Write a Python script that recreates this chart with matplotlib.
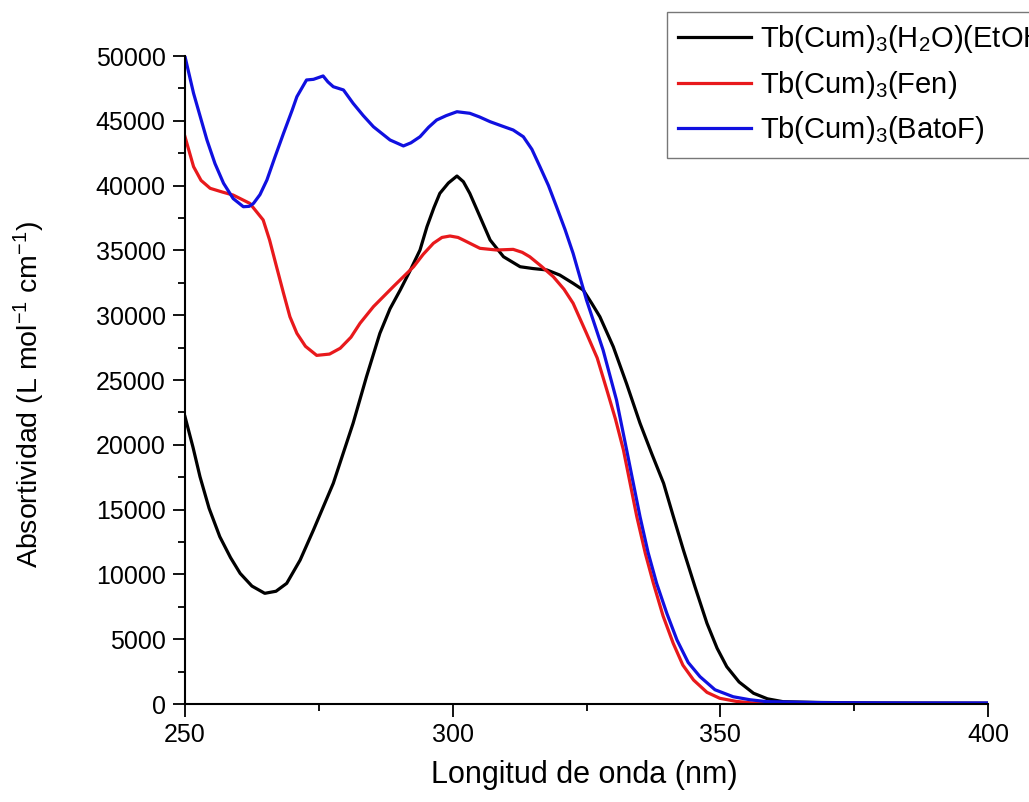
import numpy as np
import matplotlib
matplotlib.use("Agg")
import matplotlib.pyplot as plt
from matplotlib.ticker import MultipleLocator

plt.rcParams['font.family'] = ['Liberation Sans', 'DejaVu Sans']
plt.rcParams['mathtext.default'] = 'regular'

# Tb(Cum)3(H2O)(EtOH) - black
wl_h2o = [250, 251.5, 252.8, 254.5, 256.5, 258.5, 260.3, 262.5, 264.9, 267, 269,
          271.5, 274, 277.7, 281.4, 283.9, 286.4, 288.3, 290.2, 292, 293.9, 295.2,
          296.5, 297.6, 299.2, 300.8, 302, 303.2, 305, 307, 309.5, 312.6, 315,
          317.6, 320, 322.5, 324.4, 326, 327.5, 330, 332.5, 335, 337.2, 339.4,
          341.2, 343.1, 345.3, 347.5, 349.4, 351.2, 353.5, 356.2, 358.8, 361.7,
          368, 380, 400]
abs_h2o = [22170, 19800, 17540, 15100, 12910, 11300, 10080, 9100, 8540, 8700, 9310,
           11100, 13430, 17030, 21660, 25250, 28600, 30500, 31940, 33400, 35030, 36830,
           38300, 39400, 40200, 40740, 40300, 39400, 37700, 35800, 34510, 33740, 33600,
           33490, 33100, 32460, 31940, 30900, 29880, 27570, 24700, 21660, 19300, 17030,
           14500, 11880, 9000, 6230, 4300, 2880, 1700, 830, 400, 180,
           120, 80, 60]

# Tb(Cum)3(Fen) - red
wl_fen = [250, 251.6, 253, 254.7, 257, 259, 262.1, 264.6, 265.8, 267.1, 268.4,
          269.6, 270.9, 272.5, 274.6, 277, 279, 281, 282.7, 285.2, 288.9, 292.7,
          294.5, 296.4, 298, 299.5, 301, 302, 305.1, 308.2, 311.3, 313, 314.4,
          316.5, 318.8, 320.8, 322.5, 325, 327, 328.8, 330.4, 331.9, 334.4, 336,
          337.5, 339.3, 341.2, 343, 345, 347.5, 349.9, 353, 356, 365, 380, 400]
abs_fen = [43770, 41460, 40400, 39790, 39500, 39270, 38630, 37350, 35800, 33740, 31700,
           29880, 28600, 27600, 26900, 27000, 27450, 28300, 29380, 30660, 32200, 33740,
           34700, 35550, 36000, 36110, 36000, 35800, 35160, 35030, 35080, 34850, 34510,
           33800, 32970, 32000, 30920, 28600, 26700, 24230, 22000, 19600, 14450, 11600,
           9310, 6800, 4680, 3000, 1850, 900, 440, 200, 80, 50, 40, 40]

# Tb(Cum)3(BatoF) - blue
wl_bato = [250, 251.6, 254.1, 255.6, 257.2, 259, 260.9, 262, 262.8, 264, 265.3,
           266.8, 268.4, 270, 270.9, 272.7, 274, 275.8, 276.7, 277.7, 279.6, 281.4,
           283.3, 285.2, 288.3, 290.8, 292.2, 293.9, 295.5, 297, 298.8, 300.8, 303.2,
           305, 307, 309.2, 311.3, 313.2, 314.8, 316.3, 317.9, 319.4, 321, 322.5,
           325, 328.1, 330.6, 332.5, 335, 336.5, 338.1, 340, 341.9, 344, 346.2,
           349, 352.4, 355.5, 358.7, 370, 385, 400]
abs_bato = [49950, 47120, 43520, 41700, 40180, 39000, 38370, 38400, 38630, 39300, 40430,
            42200, 44030, 45800, 46860, 48150, 48200, 48460, 48000, 47630, 47380, 46350,
            45400, 44540, 43520, 43060, 43300, 43770, 44500, 45060, 45400, 45700, 45580,
            45300, 44930, 44600, 44290, 43770, 42800, 41460, 40000, 38370, 36600, 34770,
            31170, 27310, 23460, 19600, 14450, 11700, 9310, 7000, 4940, 3200, 2110,
            1100, 560, 330, 180, 100, 80, 80]

labels = [r'Tb(Cum)$_3$(H$_2$O)(EtOH)', r'Tb(Cum)$_3$(Fen)', r'Tb(Cum)$_3$(BatoF)']

fig = plt.figure(figsize=(10.29, 8.02), dpi=100)
ax = fig.add_axes([185 / 1029, 98 / 802, 803 / 1029, 648 / 802])

lw = 2.3
l1, = ax.plot(wl_h2o, abs_h2o, color='black', lw=lw)
l2, = ax.plot(wl_fen, abs_fen, color='#e8191c', lw=lw)
l3, = ax.plot(wl_bato, abs_bato, color='#1010e0', lw=lw)

ax.set_xlim(250, 400)
ax.set_ylim(0, 50000)
ax.xaxis.set_major_locator(MultipleLocator(50))
ax.xaxis.set_minor_locator(MultipleLocator(25))
ax.yaxis.set_major_locator(MultipleLocator(5000))
ax.yaxis.set_minor_locator(MultipleLocator(2500))

for s in ['top', 'right']:
    ax.spines[s].set_visible(False)
for s in ['left', 'bottom']:
    ax.spines[s].set_linewidth(1.5)

ax.tick_params(which='major', direction='out', length=9, width=1.3, labelsize=18, pad=5)
ax.tick_params(which='minor', direction='out', length=5, width=1.3)

ax.set_xlabel('Longitud de onda (nm)', fontsize=22)
ax.set_ylabel('Absortividad (L mol$^{-1}$ cm$^{-1}$)', fontsize=20.5)
ax.xaxis.set_label_coords(0.497, -0.086)
ax.yaxis.set_label_coords(-0.172, 0.477)

fig.legend([l1, l2, l3], labels, loc='upper left',
           bbox_to_anchor=(667 / 1029, 1 - 12 / 802), fontsize=21,
           frameon=True, fancybox=False, edgecolor='#555555',
           handlelength=2.5, handletextpad=0.3, labelspacing=0.47,
           borderpad=0.38, borderaxespad=0)

fig.savefig('out.png', dpi=100)
